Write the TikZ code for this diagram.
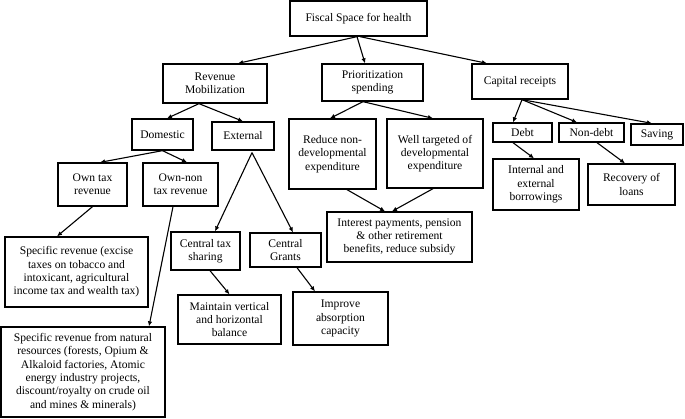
\documentclass[tikz,border=0pt]{standalone}
\usepackage{fontspec}
\setmainfont{Liberation Serif}
\usetikzlibrary{positioning,arrows.meta}

\begin{document}
\begin{tikzpicture}[x=1pt,y=-1pt,->,>={Latex[length=5pt,width=4.5pt]},line width=1.1pt,align=center,
    font=\fontsize{11.6}{13.3}\selectfont,
    box/.style 2 args={draw=black,line width=1.3pt,inner sep=0pt,minimum width=#1,minimum height=#2}]
  \useasboundingbox (0,0) rectangle (685,418);
  % top and first level
  \node[box={137pt}{35pt}] (fiscal) at (358.5,18.5) {Fiscal Space for health};
  \node[box={104pt}{39pt}] (revenue) at (215,83.5) {Revenue\\Mobilization};
  \node[box={101pt}{37pt}] (priority) at (372.5,82.5) {Prioritization\\spending};
  \node[box={96pt}{35pt}] (capital) at (520,81.5) {Capital receipts};

  \node[box={61pt}{31pt}] (domestic) at (162.5,134.5) {Domestic};
  \node[box={62pt}{28pt}] (external) at (243,136) {External};
  \node[box={87pt}{70pt}] (reduce) at (332.5,154) {Reduce non-\\developmental\\expenditure};
  \node[box={96pt}{69pt}] (welltarget) at (435,153.5) {Well targeted of\\developmental\\expenditure};
  \node[box={59pt}{19pt}] (debt) at (522.5,132.5) {Debt};
  \node[box={65pt}{19pt}] (nondebt) at (591.5,132.5) {Non-debt};
  \node[box={52pt}{21pt}] (saving) at (657,134.5) {Saving};

  \node[box={69pt}{43pt}] (owntax) at (92.5,184.5) {Own tax\\revenue};
  \node[box={75pt}{43pt}] (ownnontax) at (180.5,184.5) {Own-non\\tax revenue};
  \node[box={86pt}{51pt}] (borrowing) at (536,184.5) {Internal and\\external\\borrowings};
  \node[box={87pt}{41pt}] (recovery) at (631.5,184.5) {Recovery of\\loans};
  \node[box={145pt}{50pt}] (interest) at (399.5,237) {Interest payments, pension\\\& other retirement\\benefits, reduce subsidy};

  \node[box={143pt}{70pt}] (excise) at (76.5,272) {Specific revenue (excise\\taxes on tobacco and\\intoxicant, agricultural\\income tax and wealth tax)};
  \node[box={164pt}{90pt}] (natural) at (83,372) {Specific revenue from natural\\resources (forests, Opium \&\\Alkaloid factories, Atomic\\energy industry projects,\\discount/royalty on crude oil\\and mines \& minerals)};
  \node[box={69pt}{38pt}] (taxshare) at (205.5,251) {Central tax\\sharing};
  \node[box={71pt}{34pt}] (grants) at (285.5,250) {Central\\Grants};
  \node[box={103pt}{49pt}] (balance) at (229.5,319.5) {Maintain vertical\\and horizontal\\balance};
  \node[box={95pt}{53pt}] (absorption) at (340.5,318.5) {Improve\\absorption\\capacity};

  \path ([xshift=-1.5pt]fiscal.south) edge ([xshift=23pt]revenue.north)
        ([xshift=-1.5pt]fiscal.south) edge ([xshift=-7.5pt]priority.north)
        ([xshift=1.5pt]fiscal.south) edge ([xshift=-33pt]capital.north);
  \path ([xshift=-16pt]revenue.south) edge ([xshift=4.5pt]domestic.north)
        ([xshift=-16pt]revenue.south) edge (external.north)
        ([xshift=-9.5pt]priority.south) edge ([xshift=-2.5pt]reduce.north)
        ([xshift=-9.5pt]priority.south) edge ([xshift=-2pt]welltarget.north)
        ([xshift=2pt]capital.south) edge ([xshift=-9.5pt]debt.north)
        ([xshift=2pt]capital.south) edge ([xshift=-14.5pt]nondebt.north)
        ([xshift=2pt]capital.south) edge ([xshift=-5pt]saving.north);
  \path (domestic.south) edge ([xshift=7.5pt]owntax.north)
        (domestic.south) edge ([xshift=6.5pt]ownnontax.north)
        ([xshift=9pt,yshift=-2pt]external.south) edge ([xshift=9.5pt]taxshare.north)
        ([xshift=9pt,yshift=-2pt]external.south) edge ([xshift=7.5pt]grants.north)
        ([xshift=-9.5pt]debt.south) edge ([xshift=-2pt]borrowing.north)
        ([xshift=5.5pt]nondebt.south) edge ([xshift=-6.5pt]recovery.north)
        ([xshift=14.5pt]reduce.south) edge ([xshift=-14.5pt]interest.north)
        ([xshift=-2pt]welltarget.south) edge ([xshift=-7.5pt]interest.north);
  \path (owntax.south) edge ([xshift=-19.5pt]excise.north)
        ([xshift=-7.5pt]ownnontax.south) edge ([xshift=66pt]natural.north)
        ([xshift=4.5pt]taxshare.south) edge (balance.north)
        ([xshift=11.5pt]grants.south) edge ([xshift=-25.5pt]absorption.north);
\end{tikzpicture}
\end{document}
